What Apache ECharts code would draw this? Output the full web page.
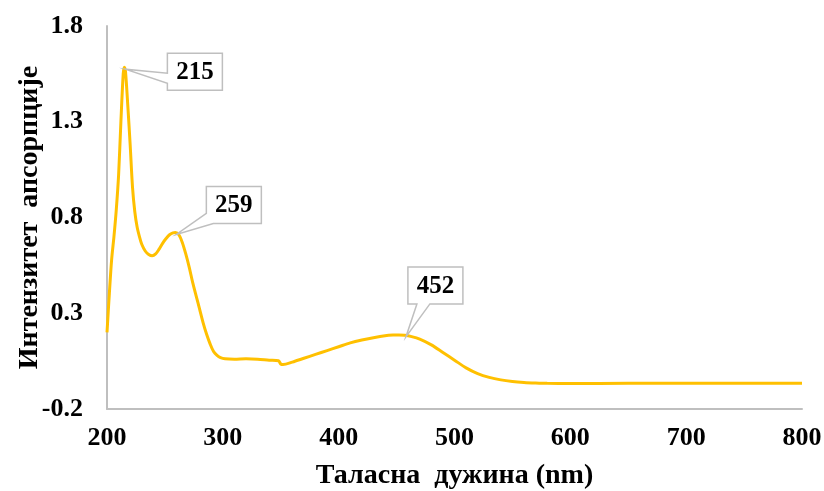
<!DOCTYPE html>
<html>
<head>
<meta charset="utf-8">
<script src="https://cdn.jsdelivr.net/npm/echarts@6/dist/echarts.min.js"></script>
<style>
html,body{margin:0;padding:0;background:#fff;}
#chart{width:824px;height:491px;}
</style>
</head>
<body>
<div id="chart"></div>
<script>
// Wavelength (nm)
var wavelengths = [200,202,204,206,208,210,212,214,215,216,218,220,222,224,226,228,230,233,236,239,242,245,248,251,254,257,259,262,265,268,271,274,277,280,283,286,289,292,295,298,302,310,320,330,340,348,350,352,360,370,380,390,400,410,420,430,440,447,452,457,463,470,480,490,500,510,520,530,540,550,560,570,580,600,650,700,750,800];
// Absorbance intensity
var absorbance = [0.20,0.40,0.58,0.70,0.84,1.02,1.30,1.55,1.585,1.56,1.38,1.18,0.96,0.83,0.75,0.70,0.66,0.625,0.607,0.60,0.61,0.635,0.665,0.69,0.71,0.72,0.722,0.71,0.67,0.61,0.54,0.46,0.39,0.32,0.25,0.19,0.14,0.10,0.08,0.068,0.062,0.060,0.062,0.060,0.055,0.052,0.035,0.032,0.045,0.065,0.085,0.105,0.125,0.145,0.160,0.172,0.182,0.186,0.187,0.185,0.178,0.165,0.135,0.095,0.055,0.015,-0.015,-0.035,-0.048,-0.056,-0.061,-0.064,-0.066,-0.067,-0.066,-0.066,-0.065,-0.065];
var yTickValues = [-0.2, 0.3, 0.8, 1.3, 1.8];
var peakWavelengths = [215, 259, 452];
var peakLabels = ['215', '259', '452'];

var seriesData = wavelengths.map(function(w, i){ return [w, absorbance[i]]; });
var font = '"Liberation Serif","Times New Roman",serif';

var chart = echarts.init(document.getElementById('chart'));
chart.setOption({
  animation: false,
  grid: {left: 107, right: 22, top: 26, bottom: 82, containLabel: false, outerBoundsMode: 'none'},
  xAxis: {
    type: 'value', min: 200, max: 800, interval: 100,
    name: 'Таласна  дужина (nm)', nameLocation: 'middle', nameGap: 53, nameMoveOverlap: false,
    nameTextStyle: {fontFamily: font, fontWeight: 'bold', fontSize: 28, color: '#000'},
    axisLine: {show: true, onZero: false, lineStyle: {color: '#bfbfbf', width: 2}},
    axisTick: {show: false},
    splitLine: {show: false},
    axisLabel: {fontFamily: font, fontWeight: 'bold', fontSize: 26, color: '#000', margin: 16}
  },
  yAxis: {
    type: 'value', min: -0.2, max: 1.8,
    name: 'Интензитет  апсорпције', nameLocation: 'middle', nameGap: 63, nameMoveOverlap: false,
    nameTextStyle: {fontFamily: font, fontWeight: 'bold', fontSize: 28, color: '#000'},
    axisLine: {show: true, onZero: false, lineStyle: {color: '#bfbfbf', width: 2}},
    axisTick: {show: false},
    splitLine: {show: false},
    axisLabel: {fontFamily: font, fontWeight: 'bold', fontSize: 26, color: '#000', margin: 24,
      customValues: yTickValues,
      formatter: function(v){ return (Math.round(v*10)/10).toFixed(1); }}
  },
  series: [{
    type: 'line', data: seriesData, smooth: 0.3, showSymbol: false,
    lineStyle: {color: '#FFC000', width: 3}
  }]
});

// Callout annotations
var boxW = 55, boxH = 37;
var calloutSpecs = [
  {dx: 43, dy: -14, tx: 1, wedge: 'left'},
  {dx: 31, dy: -46, tx: 1, wedge: 'corner'},
  {dx: 9, dy: -68, tx: 7, wedge: 'bottom'}
];
var graphics = [];
peakWavelengths.forEach(function(w, i){
  var idx = wavelengths.indexOf(w);
  var p = chart.convertToPixel({gridIndex: 0}, [w, absorbance[idx]]);
  var s = calloutSpecs[i];
  var tip = [p[0] + s.tx, p[1] + 2];
  var L = p[0] + s.dx, T = p[1] + s.dy, R = L + boxW, B = T + boxH;
  var pts;
  if (s.wedge === 'left') {
    pts = [[L,T],[R,T],[R,B],[L,B],[L,T+30],tip,[L,T+20]];
  } else if (s.wedge === 'corner') {
    pts = [[L,T],[R,T],[R,B],[L+7,B],tip,[L,B-10]];
  } else {
    pts = [[L,T],[R,T],[R,B],[L+22,B],tip,[L+9,B],[L,B]];
  }
  graphics.push({
    type: 'polygon', shape: {points: pts},
    style: {fill: '#fff', stroke: '#bfbfbf', lineWidth: 1.5}, z: 100
  });
  graphics.push({
    type: 'text', x: L + boxW/2, y: T + boxH/2 + 1, z: 101,
    style: {text: peakLabels[i], fill: '#000', font: 'bold 25px ' + font, align: 'center', verticalAlign: 'middle'}
  });
});
chart.setOption({graphic: graphics});
</script>
</body>
</html>
